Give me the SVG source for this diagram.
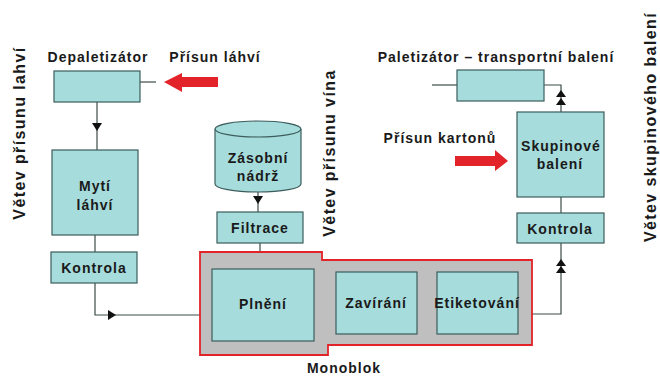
<svg xmlns="http://www.w3.org/2000/svg" width="660" height="380" viewBox="0 0 660 380">
<style>
text{font-family:"Liberation Sans",Arial,sans-serif;font-weight:bold;fill:#1a1a1a;}
.lbl{font-size:14px;text-anchor:middle;letter-spacing:1px;}
.box{fill:#a6dcdc;stroke:#3d5c5c;stroke-width:1.2;}
.ln{fill:none;stroke:#3d4a4a;stroke-width:1.2;}
.vt{font-size:16px;text-anchor:middle;letter-spacing:1.4px;}
.red{fill:#e3232a;}
.ah{fill:#111;}
</style>
<rect width="660" height="380" fill="#fff"/>
<g id="labels">
<text x="98" y="62" class="lbl">Depaletizátor</text>
<text x="215" y="62" class="lbl">Přísun láhví</text>
<text x="496" y="62" class="lbl">Paletizátor – transportní balení</text>
<text x="440" y="143" class="lbl">Přísun kartonů</text>
<text x="344" y="373" class="lbl">Monoblok</text>
<text class="vt" transform="translate(25,133) rotate(-90)">Větev přísunu lahví</text>
<text class="vt" transform="translate(335,153) rotate(-90)">Větev přísunu vína</text>
<text class="vt" transform="translate(656,127) rotate(-90)">Větev skupinového balení</text>
</g>
<g id="connectors">
<line class="ln" x1="140" y1="82" x2="156" y2="82"/>
<line class="ln" x1="97" y1="102" x2="97" y2="150"/>
<polygon class="ah" points="92,123 102,123 97,131"/>
<line class="ln" x1="95" y1="235" x2="95" y2="252"/>
<polyline class="ln" points="95,283 95,315 200,315"/>
<polygon class="ah" points="108,310 108,320 116,315"/>
<line class="ln" x1="258" y1="190" x2="258" y2="212"/>
<polygon class="ah" points="253,196 263,196 258,204"/>
<line class="ln" x1="260" y1="243" x2="260" y2="252"/>
<polyline class="ln" points="532,314 561,314 561,243"/>
<polygon class="ah" points="556,266 566,266 561,259"/>
<polygon class="ah" points="556,273 566,273 561,266"/>
<line class="ln" x1="561" y1="197" x2="561" y2="213"/>
<polyline class="ln" points="544,85 561,85 561,112"/>
<polygon class="ah" points="556,97 566,97 561,90"/>
<polygon class="ah" points="556,105 566,105 561,98"/>
<line class="ln" x1="432" y1="85" x2="457" y2="85"/>
</g>
<g id="arrow-lahve">
<polygon class="red" points="164,82 182,73 182,77 218,77 218,87 182,87 182,92"/>
</g>
<g id="arrow-kartony">
<polygon class="red" points="455,156 495,156 495,150 508,161 495,171 495,166 455,166"/>
</g>
<g id="depaletizator"><rect class="box" x="54" y="71" width="86" height="31"/></g>
<g id="myti">
<rect class="box" x="52" y="150" width="86" height="85"/>
<text x="95" y="191" class="lbl">Mytí</text>
<text x="95" y="210" class="lbl">láhví</text>
</g>
<g id="kontrola1">
<rect class="box" x="51" y="252" width="86" height="31"/>
<text x="94" y="273" class="lbl">Kontrola</text>
</g>
<g id="nadrz">
<path class="box" d="M215,129 L215,184 A43,8 0 0 0 301,184 L301,129"/>
<ellipse class="box" cx="258" cy="129" rx="43" ry="8"/>
<text x="258" y="163" class="lbl">Zásobní</text>
<text x="258" y="181" class="lbl">nádrž</text>
</g>
<g id="filtrace">
<rect class="box" x="217" y="212" width="86" height="31"/>
<text x="260" y="233" class="lbl">Filtrace</text>
</g>
<g id="monoblok">
<path d="M200,252 L322,252 L322,260 L532,260 L532,345 L328,345 L328,355 L200,355 Z" fill="#bfbfbf" stroke="#e3232a" stroke-width="1.8"/>
</g>
<g id="plneni">
<rect class="box" x="212" y="269" width="102" height="72"/>
<text x="263" y="309" class="lbl">Plnění</text>
</g>
<g id="zavirani">
<rect class="box" x="336" y="272" width="81" height="62"/>
<text x="376" y="308" class="lbl">Zavírání</text>
</g>
<g id="etiketovani">
<rect class="box" x="437" y="272" width="81" height="62"/>
<text x="477" y="308" class="lbl" letter-spacing="0.3">Etiketování</text>
</g>
<g id="kontrola2">
<rect class="box" x="517" y="213" width="87" height="30"/>
<text x="560" y="234" class="lbl">Kontrola</text>
</g>
<g id="skupinove">
<rect class="box" x="517" y="112" width="87" height="85"/>
<text x="561" y="151" class="lbl" letter-spacing="0.3">Skupinové</text>
<text x="560" y="169" class="lbl">balení</text>
</g>
<g id="paletizator"><rect class="box" x="457" y="70" width="87" height="31"/></g>
</svg>
